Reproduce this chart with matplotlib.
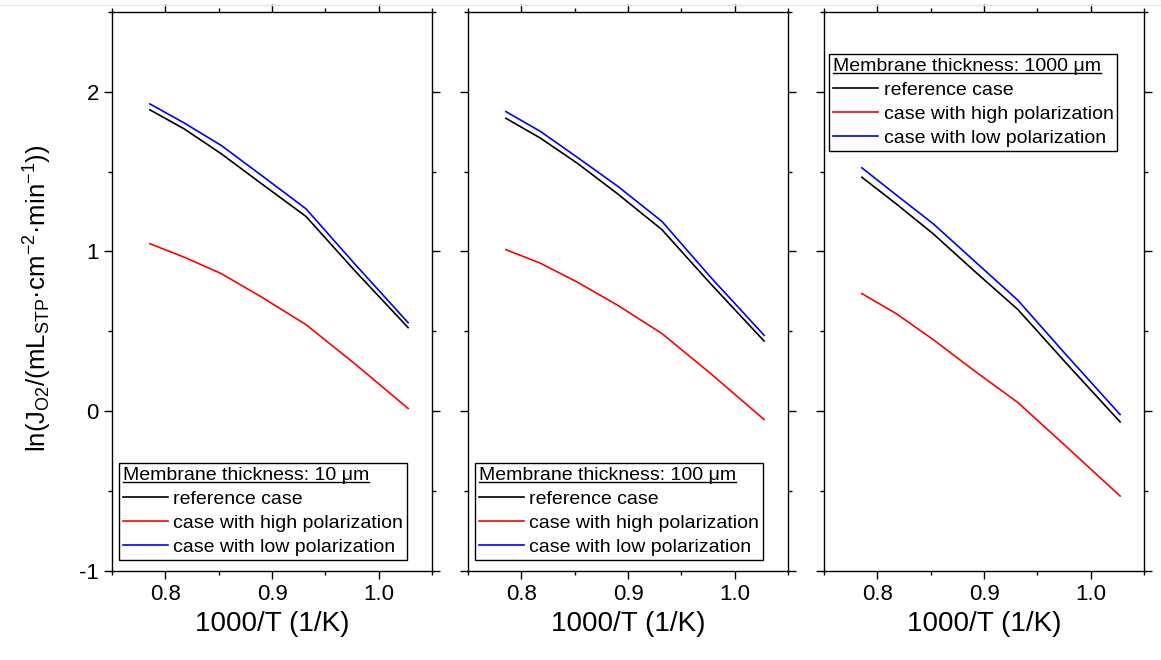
import numpy as np
import matplotlib
matplotlib.use("Agg")
import matplotlib.pyplot as plt
from matplotlib.lines import Line2D
from matplotlib.ticker import MultipleLocator

plt.rcParams['font.family'] = ['Liberation Sans', 'DejaVu Sans']
plt.rcParams['mathtext.default'] = 'regular'
plt.rcParams['axes.unicode_minus'] = False

# 1000/T values (1/K), shared by all panels
inv_T = [0.7855, 0.8176, 0.8524, 0.8903, 0.9318, 0.9774, 1.0276]

# ln(J_O2) for each membrane thickness
ref_10 = [1.886, 1.767, 1.611, 1.423, 1.219, 0.881, 0.523]
high_10 = [1.048, 0.964, 0.861, 0.714, 0.542, 0.298, 0.017]
low_10 = [1.923, 1.804, 1.663, 1.475, 1.267, 0.923, 0.554]

ref_100 = [1.833, 1.710, 1.552, 1.360, 1.136, 0.798, 0.439]
high_100 = [1.011, 0.927, 0.808, 0.663, 0.486, 0.236, -0.052]
low_100 = [1.875, 1.752, 1.589, 1.408, 1.188, 0.839, 0.475]

ref_1000 = [1.464, 1.298, 1.110, 0.881, 0.636, 0.298, -0.067]
high_1000 = [0.736, 0.611, 0.448, 0.256, 0.054, -0.223, -0.531]
low_1000 = [1.523, 1.354, 1.173, 0.944, 0.694, 0.350, -0.021]

thickness = ['10', '100', '1000']
case_labels = ['reference case', 'case with high polarization', 'case with low polarization']
case_colors = ['black', 'red', 'blue']

panels = [(ref_10, high_10, low_10),
          (ref_100, high_100, low_100),
          (ref_1000, high_1000, low_1000)]

W, H = 1161, 660
fig = plt.figure(figsize=(W / 100, H / 100), dpi=100)

lefts = [112, 468, 824]
ax_w, ax_top, ax_bot = 320, 11.7, 571

legends = []
for i, (left, series) in enumerate(zip(lefts, panels)):
    ax = fig.add_axes([left / W, 1 - ax_bot / H, ax_w / W, (ax_bot - ax_top) / H])
    handles = []
    for ys, col, lab in zip(series, case_colors, case_labels):
        h, = ax.plot(inv_T, ys, color=col, lw=1.2, label=lab)
        handles.append(h)
    ax.set_xlim(0.75, 1.05)
    ax.set_ylim(-1, 2.5)
    ax.xaxis.set_major_locator(MultipleLocator(0.1))
    ax.xaxis.set_minor_locator(MultipleLocator(0.05))
    ax.yaxis.set_major_locator(MultipleLocator(1))
    ax.yaxis.set_minor_locator(MultipleLocator(0.5))
    ax.xaxis.set_major_formatter(matplotlib.ticker.FormatStrFormatter('%.1f'))
    ax.tick_params(which='both', direction='out', top=True, right=True, width=1)
    ax.tick_params(which='major', length=5.5, labelsize=16, pad=4)
    ax.tick_params(which='minor', length=3)
    for sp in ax.spines.values():
        sp.set_linewidth(1.0)
    ax.set_xlabel('1000/T (1/K)', fontsize=20, labelpad=4)
    if i > 0:
        ax.tick_params(axis='y', labelleft=False)

    title = 'Membrane thickness: %s \u03bcm' % thickness[i]
    if i < 2:
        loc, anchor = 'lower left', (0.022, 0.02)
    else:
        loc, anchor = 'upper left', (0.016, 0.925)
    leg = ax.legend(handles=handles, title=title, loc=loc, bbox_to_anchor=anchor,
                    borderaxespad=0, fontsize=14, title_fontsize=14,
                    alignment='left', fancybox=False, framealpha=1,
                    edgecolor='black', handlelength=2.3, handletextpad=0.3,
                    labelspacing=0.33, borderpad=0.2)
    leg.get_frame().set_linewidth(1.0)
    legends.append(leg)

fig.text(38 / W, 1 - 298 / H,
         r'ln(J$_{O2}$/(mL$_{STP}$·cm$^{-2}$·min$^{-1}$))',
         fontsize=18.5, rotation=90, ha='center', va='center')

# underline the legend titles
fig.canvas.draw()
renderer = fig.canvas.get_renderer()
for leg in legends:
    bb = leg.get_title().get_window_extent(renderer)
    y = (bb.y0 + 2) / H
    fig.add_artist(Line2D([bb.x0 / W, bb.x1 / W], [y, y], color='black', lw=1.0,
                          transform=fig.transFigure))

# faint border line at the top of the screenshot
fig.add_artist(Line2D([0, 1], [1 - 5 / H, 1 - 5 / H], color='#e6e6e6', lw=1.0,
                      transform=fig.transFigure))

fig.savefig('out.png', dpi=100)
